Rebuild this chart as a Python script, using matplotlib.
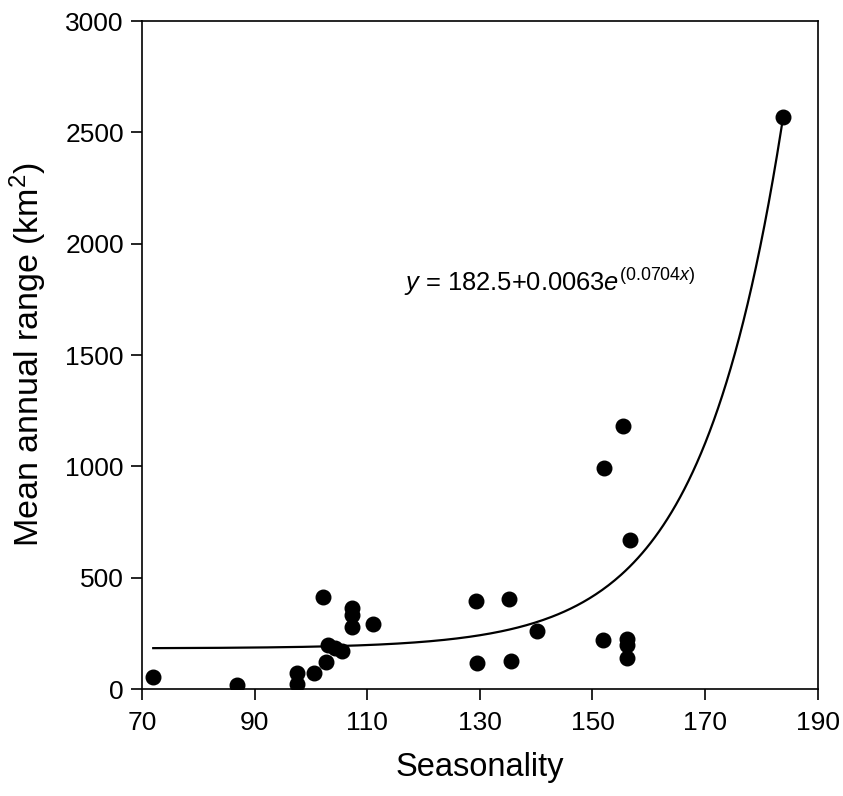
import numpy as np
import matplotlib
matplotlib.use('Agg')
import matplotlib.pyplot as plt

plt.rcParams['font.family'] = ['Liberation Sans', 'DejaVu Sans']
plt.rcParams['mathtext.fontset'] = 'custom'
plt.rcParams['mathtext.rm'] = 'Liberation Sans'
plt.rcParams['mathtext.it'] = 'Liberation Sans:italic'

# values
seasonality = [72.0, 86.8, 97.5, 97.5, 100.6, 102.7, 102.1, 103.1, 104.3, 105.5,
               107.3, 107.3, 107.3, 111.0, 129.3, 135.2, 129.5, 135.6, 140.1,
               151.8, 156.1, 156.1, 156.1, 155.4, 152.0, 156.6, 183.9]
mean_range = [52, 20, 70, 22, 70, 123, 412, 198, 182, 172,
              365, 332, 280, 290, 395, 403, 115, 126, 260,
              220, 223, 198, 141, 1180, 991, 668, 2567]

# fitted curve y = c + a*exp(b*x), as drawn in the reference
fit_c = 182.5
fit_a = 0.0078
fit_b = 0.0687
x_ticks = [70, 90, 110, 130, 150, 170, 190]
y_ticks = [0, 500, 1000, 1500, 2000, 2500, 3000]


def main():
    fig = plt.figure(figsize=(8.43, 7.96), dpi=100)
    ax = fig.add_axes([0.1684, 0.1344, 0.8016, 0.8392])

    xs = np.linspace(min(seasonality), max(seasonality), 300)
    ax.plot(xs, fit_c + fit_a * np.exp(fit_b * xs), color='black', lw=1.6)
    ax.scatter(seasonality, mean_range, s=110, color='black', zorder=3)

    ax.set_xlim(70, 190)
    ax.set_ylim(0, 3000)
    ax.set_xticks(x_ticks)
    ax.set_yticks(y_ticks)
    ax.tick_params(direction='out', length=8, width=1.2, labelsize=19)
    ax.tick_params(axis='x', pad=8)
    ax.tick_params(axis='y', pad=5)
    for s in ax.spines.values():
        s.set_linewidth(1.2)

    ax.set_xlabel('Seasonality', fontsize=23.5, labelpad=12)
    ax.set_ylabel('Mean annual range (km$^2$)', fontsize=24.5, labelpad=12)

    ax.text(116.6, 1830, r'$y$ = 182.5+0.0063$e^{(0.0704\mathit{x})}$',
            fontsize=18.4, ha='left', va='center')

    fig.savefig('out.png', dpi=100)


if __name__ == '__main__':
    main()
